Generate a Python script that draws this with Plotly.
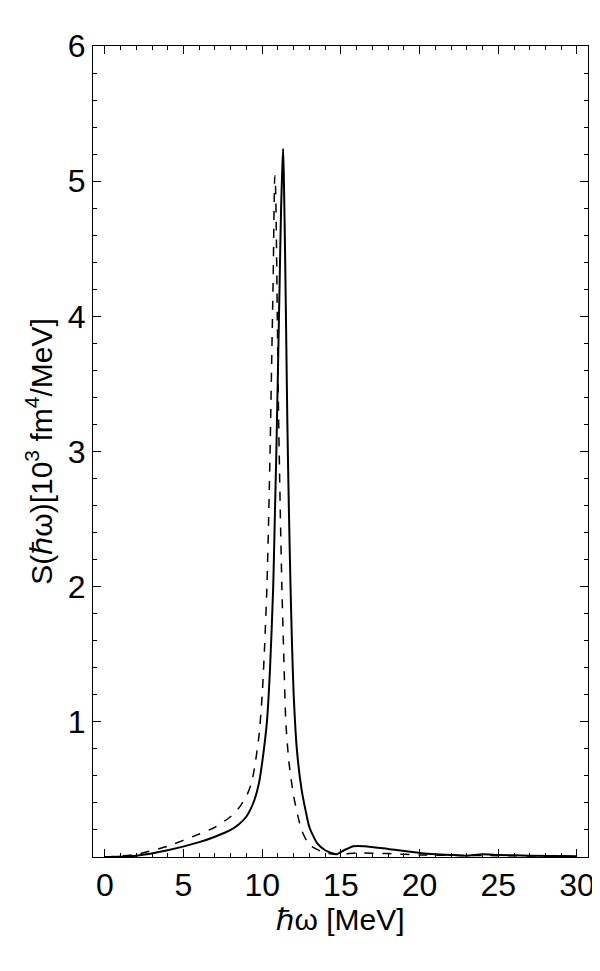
import plotly.graph_objects as go

x_solid = [0, 2, 4, 6, 7, 8, 8.5, 9, 9.5, 9.8, 10, 10.3, 10.5, 10.7, 10.8, 10.9, 11.0, 11.1, 11.2, 11.28, 11.33, 11.38, 11.45, 11.52, 11.6, 11.7, 11.8, 11.9, 12.0, 12.2, 12.5, 12.8, 13, 13.5, 14, 14.7, 15.2, 15.8, 16.5, 18, 20, 22, 23, 24, 25, 27, 30]
y_solid = [0, 0.01, 0.05, 0.11, 0.15, 0.2, 0.24, 0.3, 0.42, 0.55, 0.7, 1.0, 1.4, 2.0, 2.5, 3.0, 3.6, 4.2, 4.8, 5.1, 5.24, 5.0, 4.5, 3.9, 3.2, 2.55, 2.0, 1.55, 1.2, 0.8, 0.5, 0.32, 0.22, 0.1, 0.05, 0.02, 0.05, 0.08, 0.08, 0.06, 0.03, 0.015, 0.01, 0.02, 0.015, 0.01, 0.005]
x_dash = [0, 2, 4, 6, 7, 8, 8.5, 9, 9.3, 9.5, 9.8, 10, 10.15, 10.3, 10.4, 10.5, 10.6, 10.7, 10.75, 10.8, 10.85, 10.9, 10.97, 11.05, 11.15, 11.25, 11.38, 11.5, 11.7, 12, 12.5, 13, 14, 15, 16, 18, 20, 25, 30]
y_dash = [0, 0.02, 0.08, 0.17, 0.22, 0.3, 0.36, 0.45, 0.54, 0.65, 0.9, 1.2, 1.55, 2.0, 2.45, 3.0, 3.65, 4.3, 4.75, 5.04, 4.95, 4.6, 3.9, 3.2, 2.55, 2.0, 1.45, 1.0, 0.7, 0.45, 0.2, 0.09, 0.03, 0.02, 0.03, 0.025, 0.015, 0.01, 0.005]
x_ticks = [0, 5, 10, 15, 20, 25, 30]
y_ticks = [1, 2, 3, 4, 5, 6]

fig = go.Figure()
fig.add_trace(go.Scatter(x=x_dash, y=y_dash, mode="lines", line=dict(color="black", width=1.5, dash="dash", shape="spline", smoothing=0.6)))
fig.add_trace(go.Scatter(x=x_solid, y=y_solid, mode="lines", line=dict(color="black", width=2, shape="spline", smoothing=0.6)))

ax = dict(showgrid=False, zeroline=False, showline=True, linecolor="black", linewidth=1, mirror="ticks",
          ticks="inside", ticklen=8, tickcolor="black",
          tickfont=dict(size=32, color="black", family="Liberation Sans"))
fig.update_xaxes(**ax, range=[-0.75, 30.7], tickvals=x_ticks,
                 minor=dict(ticks="inside", ticklen=4, tickcolor="black", dtick=1, tick0=0),
                 title=dict(text="ℏω [MeV]", font=dict(size=30, color="black", family="Liberation Sans"), standoff=2))
fig.update_yaxes(**ax, range=[0, 6], tickvals=y_ticks,
                 minor=dict(ticks="inside", ticklen=4, tickcolor="black", dtick=0.2, tick0=0),
                 title=dict(text="S(ℏω)[10<sup>3</sup> fm<sup>4</sup>/MeV]", font=dict(size=30, color="black", family="Liberation Sans"), standoff=6))
fig.update_layout(width=600, height=971, plot_bgcolor="white", paper_bgcolor="white",
                  showlegend=False, font=dict(family="Liberation Sans", size=30),
                  margin=dict(l=85, r=20, t=38, b=122))
fig.write_html("out.html")
